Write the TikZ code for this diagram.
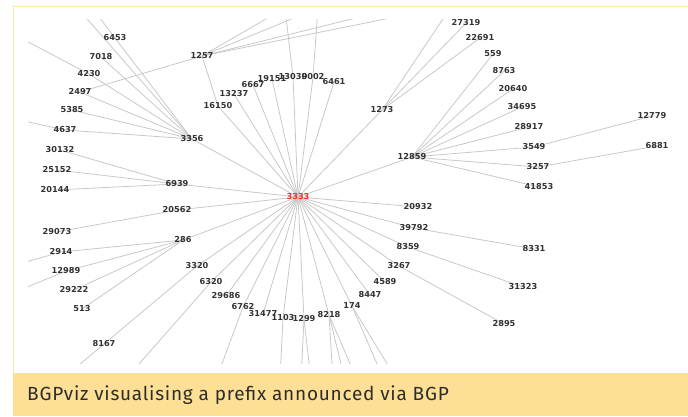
\documentclass[tikz,border=0pt]{standalone}
\usepackage{fontspec}
\setmainfont{DejaVu Sans}
\newfontfamily\labfont{DejaVu Sans}
\newfontfamily\capfont{Fira Sans}[LetterSpace=4.0]
\usetikzlibrary{backgrounds}
\definecolor{edgegray}{RGB}{200,200,200}
\definecolor{labgray}{RGB}{50,50,50}
\definecolor{hubred}{RGB}{245,45,45}
\definecolor{capfill}{RGB}{253,224,150}
\definecolor{frameyel}{RGB}{255,232,165}
\definecolor{capgray}{RGB}{45,45,45}
\begin{document}
\begin{tikzpicture}[x=1pt,y=-1pt,
  lab/.style={font=\labfont\bfseries\fontsize{8.2}{9}\selectfont, text=labgray, inner sep=0pt},
  hub/.style={lab, text=hubred},
  edge/.style={draw=edgegray, line width=0.8pt}]
\useasboundingbox (0,0) rectangle (688,416);
% frame and caption
\draw[frameyel, line width=1.5pt] (13.5,373) -- (13.5,6.5) -- (688,6.5);
\fill[capfill] (13,373) rectangle (688,416);
\node[anchor=west, font=\capfont\fontsize{19}{22}\selectfont, text=capgray, inner sep=0pt] (cap) at (27,395) {BGPviz visualising a prefix announced via BGP};
% nodes
\node[hub] (n3333) at (298,197) {3333};
\foreach \nm/\px/\py in {6453/115/38, 7018/101/57, 4230/89/74, 2497/80/92, 5385/72/110,
  4637/65/130, 30132/60/150, 25152/57/170, 20144/55/190, 3356/192/139, 1257/202/56,
  16150/218/106, 13237/234/94, 6667/253/85, 19151/272/79, 13030/293/77, 9002/313/77,
  6461/334/82, 1273/382/110, 12859/412/157, 27319/466/23, 22691/480/38, 559/493/54,
  8763/504/71, 20640/513/89, 34695/522/107, 28917/529/127, 3549/534/147, 3257/538/167,
  41853/539/187, 12779/652/116, 6881/657/146, 6939/177/184, 20562/177/210, 29073/57/232,
  286/183/240, 2914/61/252, 12989/66/271, 29222/74/290, 513/82/309, 3320/197/266,
  6320/211/282, 29686/226/296, 6762/243/307, 31477/263/314, 1103/283/318, 1299/304/319,
  8218/329/315, 174/352/306, 8447/370/295, 4589/385/282, 3267/399/266, 8359/408/247,
  39792/414/228, 20932/418/207, 8331/534/249, 31323/523/287, 2895/504/324, 8167/104/344}
  {\node[lab] (n\nm) at (\px,\py) {\nm};}
% off-screen ends
\foreach \nm/\px/\py in {Oa/75/5, Ob/90/5, Oc/15/35, Od/15/119, T1/285/8, T2/318/8,
  T3/380/12, T4/420/12, T5/449/10, L1/15/265, L2/15/292, B1/61/380, B2/125/380,
  B3/216/380, B4/280/380, B5/301/380, B6/311/380, B7/333/380, B8/345/380, B9/357/380,
  B10/384/380, B11/397/380}
  {\coordinate (n\nm) at (\px,\py);}
% connectors
\begin{scope}[on background layer]
\clip (28,19) rectangle (688,363);
\foreach \a/\b in {3333/3356, 3333/16150, 3333/13237, 3333/6667, 3333/19151, 3333/13030,
  3333/9002, 3333/6461, 3333/1273, 3333/12859, 3333/20932, 3333/39792, 3333/8359,
  3333/3267, 3333/4589, 3333/8447, 3333/174, 3333/8218, 3333/1299, 3333/1103, 3333/31477,
  3333/6762, 3333/29686, 3333/6320, 3333/3320, 3333/286, 3333/20562, 3333/6939,
  3356/6453, 3356/7018, 3356/4230, 3356/2497, 3356/5385, 3356/4637, 3356/Oa,
  6453/Ob, 4230/Oc, 4637/Od,
  1257/2497, 1257/16150, 1257/T1, 1257/T2, 1257/T3, 1257/T4, 13030/T1, 9002/T2,
  1273/27319, 1273/22691, 1273/T5,
  12859/559, 12859/8763, 12859/20640, 12859/34695, 12859/28917, 12859/3549, 12859/3257,
  12859/41853, 3549/12779, 3257/6881,
  39792/8331, 8359/31323, 3267/2895,
  6939/30132, 6939/25152, 6939/20144, 20562/29073,
  286/2914, 286/12989, 286/29222, 286/513, 2914/L1, 12989/L2,
  3320/8167, 8167/B1, 6320/B2, 6762/B3, 1103/B4, 1299/B5, 1299/B6,
  8218/B7, 8218/B8, 8218/B9, 174/B10, 174/B11}
  {\draw[edge] (n\a.center) -- (n\b.center);}
\end{scope}
\end{tikzpicture}
\end{document}
